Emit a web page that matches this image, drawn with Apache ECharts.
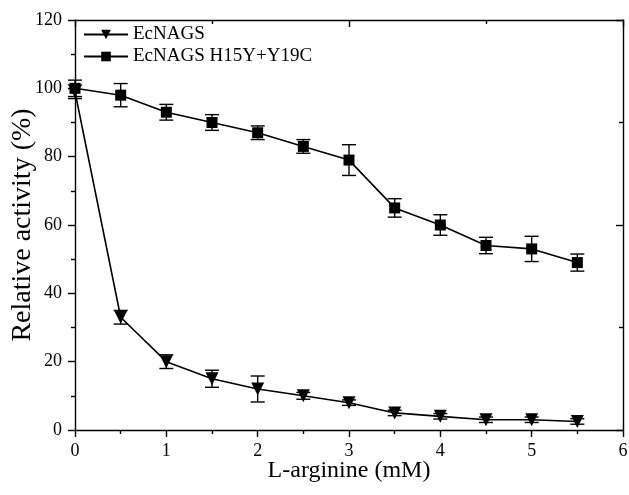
<!DOCTYPE html>
<html>
<head>
<meta charset="utf-8">
<script src="https://cdn.jsdelivr.net/npm/echarts@6/dist/echarts.min.js"></script>
<style>
html, body { margin: 0; padding: 0; background: #fff; }
#main { width: 629px; height: 495px; }
</style>
</head>
<body>
<div id="main"></div>
<script>
var arginine = [0, 0.5, 1, 1.5, 2, 2.5, 3, 3.5, 4, 4.5, 5, 5.5]; // mM
var wildType = [99, 33, 20, 15, 12, 10, 8, 5, 4, 3, 3, 2.5]; // EcNAGS
var wildTypeErr = [2, 2, 2, 2.5, 3.8, 1, 0.8, 0.8, 0.8, 0.8, 0.8, 0.8];
var mutant = [100, 98, 93, 90, 87, 83, 79, 65, 60, 54, 53, 49]; // EcNAGS H15Y+Y19C
var mutantErr = [2.4, 3.4, 2.3, 2.3, 2, 2, 4.5, 2.7, 3, 2.4, 3.7, 2.5];
var yTicks = [0, 20, 40, 60, 80, 100, 120];

var font = 'Liberation Serif';
var myChart = echarts.init(document.getElementById('main'));

// 组装数据
function pts(vals) {
	return arginine.map(function(x, i) { return [x, vals[i]]; });
}
function errPts(vals, errs) {
	return arginine.map(function(x, i) { return [x, vals[i] - errs[i], vals[i] + errs[i]]; });
}

// 误差棒
function errorBar(params, api) {
	var lo = api.coord([api.value(0), api.value(1)]);
	var hi = api.coord([api.value(0), api.value(2)]);
	var w = 7;
	var st = { stroke: '#000', lineWidth: 1.4 };
	return {
		type: 'group',
		children: [
			{ type: 'line', shape: { x1: lo[0], y1: lo[1], x2: hi[0], y2: hi[1] }, style: st },
			{ type: 'line', shape: { x1: lo[0] - w, y1: lo[1], x2: lo[0] + w, y2: lo[1] }, style: st },
			{ type: 'line', shape: { x1: hi[0] - w, y1: hi[1], x2: hi[0] + w, y2: hi[1] }, style: st }
		]
	};
}

var black = { color: '#000', width: 1.4 };

var option = {
	backgroundColor: '#fff',
	animation: false,
	grid: { left: 75, right: 6, top: 20, bottom: 65, outerBoundsMode: 'none', containLabel: false },
	legend: {
		orient: 'vertical',
		left: 78,
		top: 20,
		itemWidth: 44,
		itemHeight: 12,
		itemGap: 3,
		textStyle: { fontFamily: font, fontSize: 19, color: '#000' },
		data: ['EcNAGS', 'EcNAGS H15Y+Y19C']
	},
	xAxis: [{
		type: 'value',
		min: 0,
		max: 6,
		interval: 1,
		name: 'L-arginine (mM)',
		nameLocation: 'middle',
		nameGap: 29,
		nameMoveOverlap: false,
		nameTextStyle: { fontFamily: font, fontSize: 24, color: '#000' },
		axisLine: { show: true, onZero: false, lineStyle: black },
		axisTick: { inside: false, length: 7, lineStyle: black },
		minorTick: { show: true, splitNumber: 2, length: 4, lineStyle: black },
		axisLabel: { fontFamily: font, fontSize: 18, color: '#000', margin: 12 },
		splitLine: { show: false }
	}, {
		type: 'value',
		position: 'top',
		min: 0,
		max: 6,
		interval: 3,
		axisLine: { show: true, onZero: false, lineStyle: black },
		axisTick: { inside: true, length: 7, lineStyle: black },
		minorTick: { show: true, splitNumber: 2, length: 4, lineStyle: black },
		axisLabel: { show: false },
		splitLine: { show: false }
	}],
	yAxis: [{
		type: 'value',
		min: yTicks[0],
		max: yTicks[yTicks.length - 1],
		interval: 20,
		name: 'Relative activity (%)',
		nameLocation: 'middle',
		nameGap: 38,
		nameMoveOverlap: false,
		nameTextStyle: { fontFamily: font, fontSize: 28, color: '#000' },
		axisLine: { show: true, onZero: false, lineStyle: black },
		axisTick: { inside: false, length: 7, lineStyle: black },
		minorTick: { show: true, splitNumber: 2, length: 4, lineStyle: black },
		axisLabel: { fontFamily: font, fontSize: 18, color: '#000', margin: 13 },
		splitLine: { show: false }
	}, {
		type: 'value',
		position: 'right',
		min: 0,
		max: 120,
		interval: 60,
		axisLine: { show: true, onZero: false, lineStyle: black },
		axisTick: { inside: true, length: 7, lineStyle: black },
		minorTick: { show: true, splitNumber: 2, length: 4, lineStyle: black },
		axisLabel: { show: false },
		splitLine: { show: false }
	}],
	series: [{
		name: 'EcNAGS',
		type: 'line',
		data: pts(wildType),
		symbol: 'triangle',
		symbolRotate: 180,
		symbolSize: 13,
		itemStyle: { color: '#000' },
		lineStyle: { color: '#000', width: 1.6 },
		z: 3
	}, {
		name: 'EcNAGS H15Y+Y19C',
		type: 'line',
		data: pts(mutant),
		symbol: 'rect',
		symbolSize: 11,
		itemStyle: { color: '#000' },
		lineStyle: { color: '#000', width: 1.6 },
		z: 3
	}, {
		// 误差棒绑定到顶部/右侧轴（刻度相同）
		type: 'custom',
		xAxisIndex: 1,
		yAxisIndex: 1,
		renderItem: errorBar,
		encode: { x: 0, y: [1, 2] },
		data: errPts(wildType, wildTypeErr),
		z: 2
	}, {
		type: 'custom',
		xAxisIndex: 1,
		yAxisIndex: 1,
		renderItem: errorBar,
		encode: { x: 0, y: [1, 2] },
		data: errPts(mutant, mutantErr),
		z: 2
	}]
};
myChart.setOption(option);
</script>
</body>
</html>
